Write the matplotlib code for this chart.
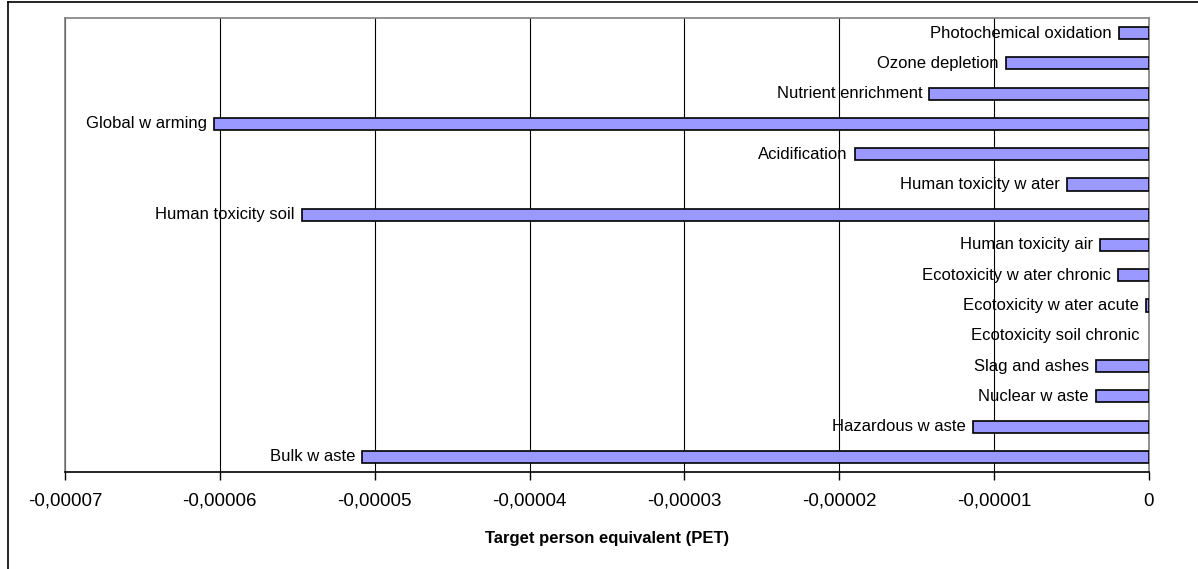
import matplotlib
matplotlib.use("Agg")
import matplotlib.pyplot as plt
from matplotlib.ticker import FixedLocator

categories = [
    "Photochemical oxidation", "Ozone depletion", "Nutrient enrichment",
    "Global w arming", "Acidification", "Human toxicity w ater",
    "Human toxicity soil", "Human toxicity air", "Ecotoxicity w ater chronic",
    "Ecotoxicity w ater acute", "Ecotoxicity soil chronic", "Slag and ashes",
    "Nuclear w aste", "Hazardous w aste", "Bulk w aste",
]
values = [
    -1.94e-6, -9.25e-6, -1.42e-5, -6.04e-5, -1.90e-5, -5.29e-6,
    -5.47e-5, -3.14e-6, -2.02e-6, -1.9e-7, 0.0, -3.44e-6,
    -3.44e-6, -1.137e-5, -5.08e-5,
]
xticks = [-7e-5, -6e-5, -5e-5, -4e-5, -3e-5, -2e-5, -1e-5, 0.0]
xtick_labels = ["-0,00007", "-0,00006", "-0,00005", "-0,00004",
                "-0,00003", "-0,00002", "-0,00001", "0"]
xlabel = "Target person equivalent (PET)"

plt.rcParams['font.family'] = ['Liberation Sans', 'DejaVu Sans']

fig = plt.figure(figsize=(11.98, 5.69), dpi=100)
# outer chart border (left and top visible)
fig.add_artist(plt.Line2D([8/1198, 8/1198], [0, 1 - 2/569], transform=fig.transFigure,
                          color='black', lw=1.2))
fig.add_artist(plt.Line2D([8/1198, 1], [1 - 2/569, 1 - 2/569], transform=fig.transFigure,
                          color='black', lw=1.2))

ax = fig.add_axes([65/1198, 1 - 472/569, (1149 - 65)/1198, (472 - 18)/569])

n = len(categories)
ypos = list(range(n))
lws = [1.2 if v != 0 else 0.0 for v in values]
ax.barh(ypos, values, height=0.4, color='#9999FF', edgecolor='black', linewidth=lws, zorder=3)
ax.set_ylim(n - 0.5, -0.5)
ax.set_xlim(-7e-5, 0)

for y, v, lab in zip(ypos, values, categories):
    off = -5 if v != 0 else -7
    ax.annotate(lab, xy=(v, y), xytext=(off, 0), textcoords='offset points',
                ha='right', va='center', fontsize=12, color='black', zorder=4)

ax.xaxis.set_major_locator(FixedLocator(xticks))
ax.set_xticklabels(xtick_labels, fontsize=13.5)
ax.set_yticks([])
ax.tick_params(axis='x', direction='out', length=6, width=1, pad=9, colors='black')
ax.grid(axis='x', color='black', linewidth=0.8, zorder=0)
ax.set_axisbelow(True)

for side in ['left', 'right', 'top']:
    ax.spines[side].set_color('#808080')
    ax.spines[side].set_linewidth(1.2)
ax.spines['bottom'].set_color('black')
ax.spines['bottom'].set_linewidth(1.2)

ax.set_xlabel(xlabel, fontsize=12, fontweight='bold', labelpad=15)

fig.savefig("out.png", dpi=100)
